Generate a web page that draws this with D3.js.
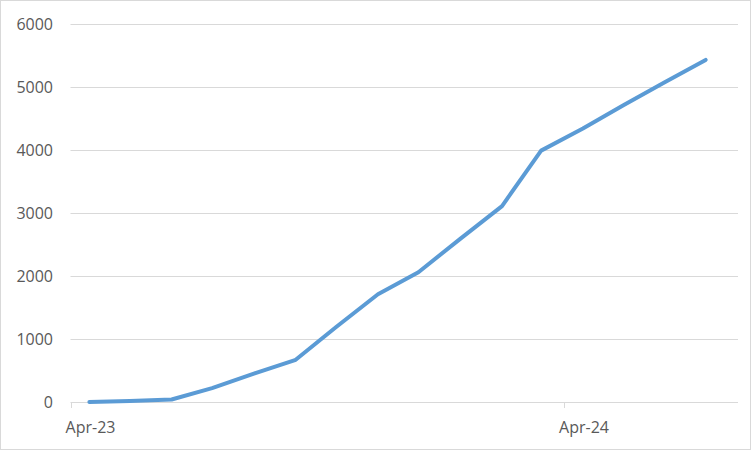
<!DOCTYPE html>
<html><head><meta charset="utf-8">
<script src="https://cdn.jsdelivr.net/npm/d3@7"></script>
<style>body{margin:0;background:#fff}svg{display:block}</style>
</head><body>
<svg id="c" width="752" height="452"></svg>
<script>
const dates = ["2023-04-15","2023-05-15","2023-06-15","2023-07-15","2023-08-15","2023-09-15","2023-10-15","2023-11-15","2023-12-15","2024-01-15","2024-02-15","2024-03-15","2024-04-15","2024-05-15","2024-06-15","2024-07-15"];
const values = [0, 15, 40, 220, 450, 670, 1190, 1710, 2060, 2590, 3110, 3990, 4340, 4710, 5080, 5430];
const yTicks = [0, 1000, 2000, 3000, 4000, 5000, 6000];
const xTickDates = ["2023-04-01","2024-04-01"];
const xDomain = ["2023-04-01","2024-08-08"];

const parse = d3.utcParse("%Y-%m-%d");
const svg = d3.select("#c");
const font = "'Open Sans', sans-serif";
const textColor = "#595959";

svg.append("rect").attr("x",0.5).attr("y",0.5).attr("width",750).attr("height",449)
  .attr("fill","#fff").attr("stroke","#D9D9D9").attr("stroke-width",1);

const x = d3.scaleUtc().domain(xDomain.map(parse)).range([70.5, 738]);
const y = d3.scaleLinear().domain([0, 6000]).range([402, 24]);

// gridlines
svg.append("g").selectAll("line").data(yTicks).join("line")
  .attr("x1", 70.5).attr("x2", 738)
  .attr("y1", d => Math.round(y(d)) + 0.5).attr("y2", d => Math.round(y(d)) + 0.5)
  .attr("stroke", "#D9D9D9").attr("stroke-width", 1);

// y labels
svg.append("g").selectAll("text").data(yTicks).join("text")
  .attr("x", 53).attr("y", d => y(d)).attr("dy", "0.36em")
  .attr("text-anchor", "end").attr("font-family", font).attr("font-size", 16)
  .attr("fill", textColor).text(d => d);

// x ticks
const xt = xTickDates.map(parse);
svg.append("g").selectAll("line").data(xt).join("line")
  .attr("x1", d => Math.round(x(d)) + 0.5).attr("x2", d => Math.round(x(d)) + 0.5)
  .attr("y1", 402).attr("y2", 408)
  .attr("stroke", "#D9D9D9").attr("stroke-width", 1);
svg.append("g").selectAll("text").data(xt).join("text")
  .attr("x", d => x(d) + 20).attr("y", 433)
  .attr("text-anchor", "middle").attr("font-family", font).attr("font-size", 16)
  .attr("fill", textColor).text(d => d3.utcFormat("%b-%y")(d));

// line
const data = dates.map((d, i) => ({ d: parse(d), v: values[i] }));
svg.append("path").datum(data)
  .attr("fill", "none").attr("stroke", "#5B9BD5").attr("stroke-width", 4)
  .attr("stroke-linejoin", "round").attr("stroke-linecap", "round")
  .attr("d", d3.line().x(p => x(p.d)).y(p => y(p.v)));
</script>
</body></html>
